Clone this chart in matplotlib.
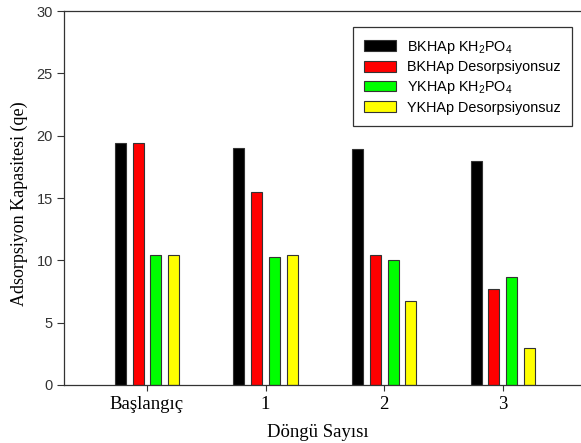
import matplotlib
matplotlib.use("Agg")
import matplotlib.pyplot as plt
import numpy as np

plt.rcParams['mathtext.fontset'] = 'custom'
plt.rcParams['mathtext.rm'] = 'Liberation Sans'

categories = ["Başlangıç", "1", "2", "3"]
series_labels = [r"BKHAp KH$_\mathregular{2}$PO$_\mathregular{4}$",
                 "BKHAp Desorpsiyonsuz",
                 r"YKHAp KH$_\mathregular{2}$PO$_\mathregular{4}$",
                 "YKHAp Desorpsiyonsuz"]
bkhap_kh2po4 = [19.4, 19.0, 18.9, 18.0]
bkhap_desorp = [19.4, 15.5, 10.4, 7.7]
ykhap_kh2po4 = [10.4, 10.3, 10.0, 8.7]
ykhap_desorp = [10.4, 10.4, 6.7, 3.0]
colors = ["#000000", "#ff0000", "#00ff00", "#ffff00"]

fig = plt.figure(figsize=(5.81, 4.43), dpi=100)
ax = fig.add_axes([64/581, 58/443, 517/581, 374/443])

x = np.arange(len(categories))
step = 0.15
width = 0.093
for i, (vals, lab, c) in enumerate(zip([bkhap_kh2po4, bkhap_desorp, ykhap_kh2po4, ykhap_desorp], series_labels, colors)):
    ax.bar(x + (i - 1.5) * step, vals, width, color=c, edgecolor="#333333", linewidth=0.8, label=lab)

ax.set_xlim(-0.70, 3.66)
ax.set_ylim(0, 30)
ax.set_yticks([0, 5, 10, 15, 20, 25, 30])
ax.set_xticks(x)
ax.set_xticklabels(categories, family="Liberation Serif", fontsize=13.5)
for t in ax.get_yticklabels():
    t.set_family("Liberation Sans")
    t.set_fontsize(10.5)
    t.set_color("#333333")
ax.tick_params(axis='y', direction='out', length=5, width=0.8, color="#333333", pad=3)
ax.tick_params(axis='x', direction='out', length=4, width=0.8, color="#333333", pad=4)
ax.spines['right'].set_visible(False)
for s in ['left', 'bottom', 'top']:
    ax.spines[s].set_color("#333333")
    ax.spines[s].set_linewidth(0.9)

ax.set_ylabel("Adsorpsiyon Kapasitesi (qe)", family="Liberation Serif", fontsize=13, labelpad=6, y=0.485)
ax.set_xlabel("Döngü Sayısı", family="Liberation Serif", fontsize=13.5, labelpad=8, x=0.49)

leg = ax.legend(loc="upper right", bbox_to_anchor=(0.983, 0.957), borderaxespad=0,
                prop={"family": "Liberation Sans", "size": 10.4}, fancybox=False,
                edgecolor="#333333", framealpha=1, handlelength=2.2, handleheight=0.75,
                labelspacing=0.32, borderpad=0.8, handletextpad=0.75)
leg.get_frame().set_linewidth(0.9)

fig.savefig("out.png", dpi=100)
